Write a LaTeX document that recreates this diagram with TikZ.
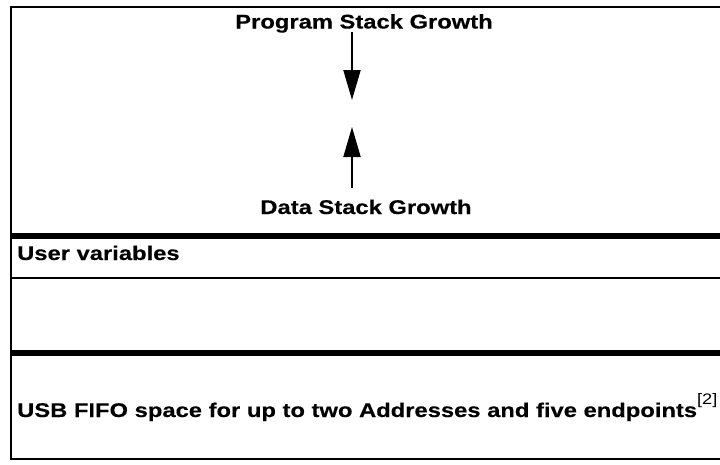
\documentclass[tikz,border=0pt]{standalone}
\usepackage{fontspec}
\setmainfont{Liberation Sans}[FakeStretch=1.2, BoldFeatures={FakeBold=0.3}]
\usetikzlibrary{arrows.meta}
\begin{document}
\begin{tikzpicture}[x=1pt,y=-1pt,
  lbl/.style={inner sep=0pt, font=\fontsize{19.8}{21}\selectfont\bfseries},
  thinrule/.style={line width=1.5pt},
  thickrule/.style={line width=6pt},
  growth/.style={line width=2pt, -{Triangle[length=30pt,width=17pt]}}]
\clip (0,0) rectangle (720,464);
\fill[white] (0,0) rectangle (720,464);
% frame
\draw[thinrule] (730,7) -- (11,7) -- (11,459);
\draw[line width=2.2pt] (10.25,459) -- (730,459);
\draw[thickrule] (10.25,236) -- (730,236);
\draw[thinrule] (10.25,278) -- (730,278);
\draw[thickrule] (10.25,353) -- (730,353);
% growth arrows
\coordinate (pstart) at (352,32);
\coordinate (pend) at (352,100);
\coordinate (dstart) at (352,188);
\coordinate (dend) at (352,127);
\draw[growth] (pstart) -- (pend);
\draw[growth] (dstart) -- (dend);
% labels
\node[lbl, anchor=base] (psg) at (364,28.5) {Program Stack Growth};
\node[lbl, anchor=base] (dsg) at (366,214) {Data Stack Growth};
\node[lbl, anchor=base west] (uv) at (17,260) {User variables};
\node[lbl, anchor=base west] (usb) at (17,417) {USB FIFO space for up to two Addresses and five endpoints\raisebox{12.4pt}{\mdseries\fontsize{15.2}{16}\selectfont[2]}};
\end{tikzpicture}
\end{document}
